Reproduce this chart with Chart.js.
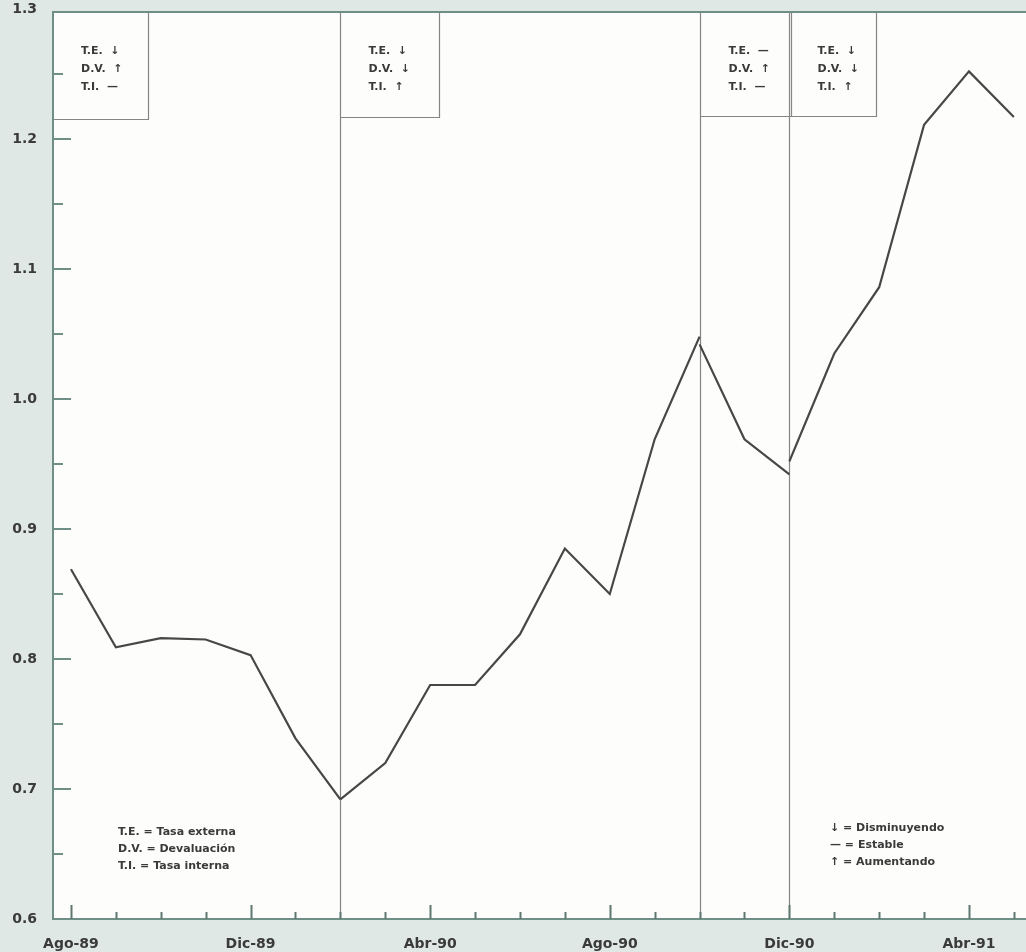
<!DOCTYPE html>
<html>
<head>
<meta charset="utf-8">
<script src="https://cdn.jsdelivr.net/npm/chart.js@4.4.1/dist/chart.umd.min.js"></script>
<style>
  html, body { margin: 0; padding: 0; background: #dfe8e4; }
  #wrap { width: 1026px; height: 952px; }
</style>
</head>
<body>
<div id="wrap"><canvas id="c" width="1026" height="952"></canvas></div>
<script>
// ---- data ----
const months = ["Ago-89","Sep-89","Oct-89","Nov-89","Dic-89","Ene-90","Feb-90","Mar-90","Abr-90","May-90","Jun-90","Jul-90",
                "Ago-90","Sep-90","Oct-90","Nov-90","Dic-90","Ene-91","Feb-91","Mar-91","Abr-91","May-91"];
const values = [0.869,0.809,0.816,0.815,0.803,0.739,0.692,0.720,0.780,0.780,0.819,0.885,
                0.850,0.969,1.048,0.969,0.942,1.035,1.086,1.211,1.252,1.217];
const breakIdx = [6, 14, 16];              // regime changes (vertical lines)
const restartValues = [0.692, 1.042, 0.952]; // line restarts after each break
const labelIdx = [0, 4, 8, 12, 16, 20];
const yTicks = [0.6, 0.7, 0.8, 0.9, 1.0, 1.1, 1.2, 1.3];
const regimeTE = ["↓", "↓", "—", "↓"];
const regimeDV = ["↑", "↓", "↑", "↓"];
const regimeTI = ["—", "↑", "—", "↑"];
const legendLeft = ["T.E. = Tasa externa", "D.V. = Devaluación", "T.I. = Tasa interna"];
const legendRight = ["↓ = Disminuyendo", "— = Estable", "↑ = Aumentando"];

// ---- build segments ----
const segStarts = [0].concat(breakIdx);
const segEnds = breakIdx.concat([values.length - 1]);
const datasets = segStarts.map((s, k) => {
  const pts = [];
  for (let i = s; i <= segEnds[k]; i++) {
    const y = (k > 0 && i === s) ? restartValues[k - 1] : values[i];
    pts.push({ x: i, y: y });
  }
  return {
    data: pts, borderColor: '#474747', borderWidth: 2.2, pointRadius: 0,
    tension: 0, fill: false, borderJoinStyle: 'miter'
  };
});

const FONT = '"DejaVu Sans", "Liberation Sans", Arial, sans-serif';
const AXIS = '#6f8f86';
const VLINE = '#858585';
const TXT = '#3a3a3a';
const TOPOFF = 3;

const deco = {
  id: 'deco',
  beforeDraw(chart) {
    const { ctx, chartArea: a } = chart;
    ctx.save();
    ctx.fillStyle = '#dfe8e4';
    ctx.fillRect(0, 0, chart.width, chart.height);
    ctx.fillStyle = '#fdfdfc';
    ctx.fillRect(a.left, a.top + TOPOFF, a.right - a.left, a.bottom - a.top - TOPOFF);
    ctx.restore();
  },
  beforeDatasetsDraw(chart) {
    const { ctx, chartArea: a, scales: { x, y } } = chart;
    const top = a.top + TOPOFF;
    ctx.save();
    // vertical regime lines
    ctx.strokeStyle = VLINE; ctx.lineWidth = 1.2;
    breakIdx.forEach(i => {
      const px = Math.round(x.getPixelForValue(i)) + 0.5;
      ctx.beginPath(); ctx.moveTo(px, top); ctx.lineTo(px, a.bottom); ctx.stroke();
    });
    // boxes
    const boxW = [95, 98, 90, 86];
    const boxB = [119, 117, 116, 116];
    const lefts = [a.left].concat(breakIdx.map(i => Math.round(x.getPixelForValue(i)) + 0.5));
    ctx.font = 'bold 11px ' + FONT;
    ctx.fillStyle = TXT; ctx.textBaseline = 'middle'; ctx.textAlign = 'left';
    lefts.forEach((l, k) => {
      const r = Math.round(l + boxW[k]) + 0.5, b = boxB[k] + 0.5;
      ctx.beginPath(); ctx.moveTo(l, b); ctx.lineTo(r, b); ctx.lineTo(r, top); ctx.stroke();
      const tx = l + 28;
      ctx.fillText('T.E.  ' + regimeTE[k], tx, 51);
      ctx.fillText('D.V.  ' + regimeDV[k], tx, 69);
      ctx.fillText('T.I.  ' + regimeTI[k], tx, 87);
    });
    // legends
    legendLeft.forEach((t, i) => ctx.fillText(t, 118, 832 + i * 17));
    legendRight.forEach((t, i) => ctx.fillText(t, 830, 828 + i * 17));
    ctx.restore();
  },
  afterDraw(chart) {
    const { ctx, chartArea: a, scales: { x, y } } = chart;
    const top = a.top + TOPOFF;
    ctx.save();
    ctx.strokeStyle = AXIS; ctx.lineWidth = 2;
    // axes + top border
    ctx.beginPath();
    ctx.moveTo(a.left - 1, top); ctx.lineTo(a.right, top);
    ctx.moveTo(a.left, top); ctx.lineTo(a.left, a.bottom);
    ctx.lineTo(a.right, a.bottom);
    ctx.stroke();
    // y ticks (inward)
    for (let v = 0.6; v <= 1.2501; v += 0.05) {
      const py = Math.round(y.getPixelForValue(v));
      const major = Math.abs(Math.round(v * 10) - v * 10) < 1e-6;
      if (Math.abs(v - 0.6) < 1e-6) continue;
      ctx.beginPath(); ctx.moveTo(a.left, py); ctx.lineTo(a.left + (major ? 18 : 10), py); ctx.stroke();
    }
    // x ticks (inward, upward)
    ctx.strokeStyle = '#5f7770';
    for (let i = 0; i < months.length; i++) {
      const px = Math.round(x.getPixelForValue(i)) + 0.5;
      const major = labelIdx.includes(i);
      ctx.beginPath(); ctx.moveTo(px, a.bottom); ctx.lineTo(px, a.bottom - (major ? 14 : 7)); ctx.stroke();
    }
    ctx.restore();
  }
};

new Chart(document.getElementById('c'), {
  type: 'line',
  data: { datasets: datasets },
  options: {
    responsive: false, animation: false,
    layout: { padding: { top: 9, right: 0, left: 0, bottom: 0 } },
    plugins: { legend: { display: false }, tooltip: { enabled: false } },
    scales: {
      x: {
        type: 'linear', min: -0.4, max: 21.27,
        grid: { display: false, drawTicks: false }, border: { display: false },
        afterBuildTicks: s => { s.ticks = labelIdx.map(v => ({ value: v })); },
        afterFit: s => { s.height = 33; s.paddingLeft = 0; s.paddingRight = 0; },
        ticks: {
          autoSkip: false, maxRotation: 0, padding: 17, color: TXT,
          font: { family: FONT, size: 14, weight: 'bold' },
          callback: v => months[v]
        }
      },
      y: {
        min: 0.6, max: 1.3,
        grid: { display: false, drawTicks: false }, border: { display: false },
        afterBuildTicks: s => { s.ticks = yTicks.map(v => ({ value: v })); },
        afterFit: s => { s.width = 53; s.paddingTop = 0; s.paddingBottom = 0; },
        ticks: {
          padding: 16, color: TXT,
          font: { family: FONT, size: 14, weight: 'bold' },
          callback: v => Number(v).toFixed(1)
        }
      }
    }
  },
  plugins: [deco]
});
</script>
</body>
</html>
